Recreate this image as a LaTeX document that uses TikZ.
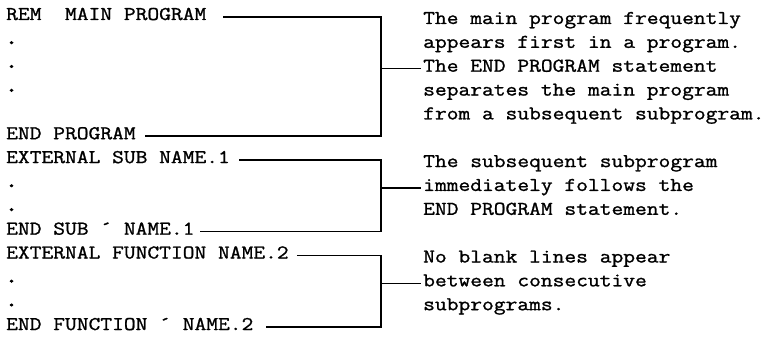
\documentclass[tikz,border=0pt]{standalone}
\usepackage{fontspec}
\newfontfamily\typewriter{Latin Modern Mono}[FakeStretch=1.172, FakeBold=1.2]
\newfontfamily\typedots{Latin Modern Mono}[FakeStretch=1.172, FakeBold=3.5]
\begin{document}
\begin{tikzpicture}[x=1pt,y=-1pt,
  code/.style={font=\typewriter\fontsize{19.5}{24}\selectfont, inner sep=0pt,
               anchor=base west, text height=9pt, text depth=3pt},
  note/.style={code},
  elide/.style={code, font=\typedots\fontsize{21}{24}\selectfont},
  brk/.style={line width=1.6pt, line join=miter}]
\useasboundingbox (0,0) rectangle (773,339);

% program listing, one line every 23.85 units
\node[code]  (rem)   at (6,20)      {REM\ \ MAIN PROGRAM};
\node[elide] (d1)    at (5,43.85)   {.};
\node[elide] (d2)    at (5,67.7)    {.};
\node[elide] (d3)    at (5,91.55)   {.};
\node[code]  (endp)  at (6,139.25)  {END PROGRAM};
\node[code]  (exts)  at (6,163.1)   {EXTERNAL SUB NAME.1};
\node[elide] (d4)    at (5,186.95)  {.};
\node[elide] (d5)    at (5,210.8)   {.};
\node[code]  (ends)  at (6,234.65)  {END SUB ´ NAME.1};
\node[code]  (extf)  at (6,258.5)   {EXTERNAL FUNCTION NAME.2};
\node[elide] (d6)    at (5,282.35)  {.};
\node[elide] (d7)    at (5,306.2)   {.};
\node[code]  (endf)  at (6,330.05)  {END FUNCTION ´ NAME.2};

% explanations
\node[note] (a1) at (423,24)     {The main program frequently};
\node[note] (a2) at (423,47.85)  {appears first in a program.};
\node[note] (a3) at (423,71.7)   {The END PROGRAM statement};
\node[note] (a4) at (423,95.55)  {separates the main program};
\node[note] (a5) at (423,119.4)  {from a subsequent subprogram.};
\node[note] (b1) at (423,167.1)  {The subsequent subprogram};
\node[note] (b2) at (423,190.95) {immediately follows the};
\node[note] (b3) at (423,214.8)  {END PROGRAM statement.};
\node[note] (c1) at (423,262.5)  {No blank lines appear};
\node[note] (c2) at (423,286.35) {between consecutive};
\node[note] (c3) at (423,310.2)  {subprograms.};

% x position of the bracket spines
\coordinate (spine) at (381,0);

% brackets
\draw[brk] ([xshift=17pt]rem.east) -| (spine |- endp.east) -- ([xshift=9pt]endp.east);
\draw[brk] (spine |- a3.west) -- ([xshift=-2pt]a3.west);
\draw[brk] ([xshift=9pt]exts.east) -| (spine |- ends.east) -- ([xshift=5pt]ends.east);
\draw[brk] (spine |- b2.west) -- ([xshift=-2pt]b2.west);
\draw[brk] ([xshift=8pt]extf.east) -| (spine |- endf.east) -- ([xshift=12pt]endf.east);
\draw[brk] (spine |- c2.west) -- ([xshift=-2pt]c2.west);
\end{tikzpicture}
\end{document}
